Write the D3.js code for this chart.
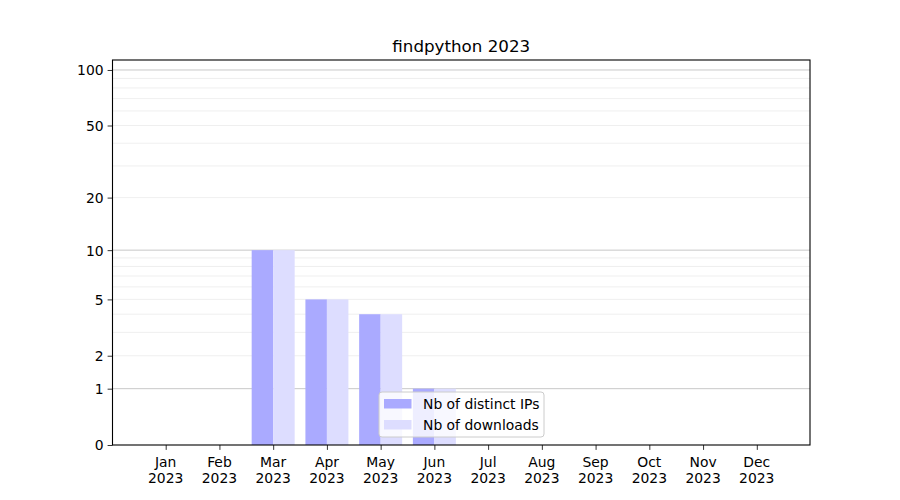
<!DOCTYPE html>
<html><head><meta charset="utf-8">
<script src="https://cdn.jsdelivr.net/npm/d3@7"></script>
<style>body{margin:0;background:#fff}svg{display:block}text{font-family:"DejaVu Sans",sans-serif}</style>
</head><body><svg id="c" width="900" height="500"></svg>
<script>
const months = ["Jan","Feb","Mar","Apr","May","Jun","Jul","Aug","Sep","Oct","Nov","Dec"];
const year = "2023";
const distinctIPs = [0,0,10,5,4,1,0,0,0,0,0,0];
const downloads   = [0,0,10,5,4,1,0,0,0,0,0,0];
const yTickValues = [0,1,2,5,10,20,50,100];
const majorGrid = [1,10,100];
const minorGrid = [2,3,4,5,6,7,8,9,20,30,40,50,60,70,80,90];
const seriesNames = ["Nb of distinct IPs","Nb of downloads"];
const title = "findpython 2023";

const L=112.5,R=810,T=60,B=445;
const svg=d3.select("#c");
const x=d3.scaleLinear().domain([-0.99,11.99]).range([L,R]);
const ylog=d3.scaleLog().domain([1,114.2]).range([B,T]);
const y=v=>ylog(v+1);

// grid
svg.append("g").selectAll("line").data(minorGrid).join("line")
 .attr("x1",L).attr("x2",R).attr("y1",d=>y(d)).attr("y2",d=>y(d))
 .attr("stroke","#ebebeb").attr("stroke-width",0.8);
svg.append("g").selectAll("line").data(majorGrid).join("line")
 .attr("x1",L).attr("x2",R).attr("y1",d=>y(d)).attr("y2",d=>y(d))
 .attr("stroke","#c8c8c8").attr("stroke-width",1);

// bars
svg.append("g").selectAll("rect").data(distinctIPs).join("rect")
 .attr("x",(d,i)=>x(i-0.4)).attr("width",(d,i)=>x(i)-x(i-0.4))
 .attr("y",d=>y(d)).attr("height",d=>B-y(d)).attr("fill","#aaaaff");
svg.append("g").selectAll("rect").data(downloads).join("rect")
 .attr("x",(d,i)=>x(i)).attr("width",(d,i)=>x(i+0.4)-x(i))
 .attr("y",d=>y(d)).attr("height",d=>B-y(d)).attr("fill","#ddddff");

// axes
const ya=d3.axisLeft(ylog).tickValues(yTickValues.map(v=>v+1)).tickFormat(d=>String(Math.round(d-1))).tickSize(4.9).tickPadding(4);
const gy=svg.append("g").attr("transform",`translate(${L},0)`).call(ya);
gy.select(".domain").remove();
gy.selectAll("line").attr("stroke","#000").attr("stroke-width",0.8);
gy.selectAll("text").attr("font-size","13.9px").attr("fill","#000").attr("dy","0.35em");

const xa=d3.axisBottom(x).tickValues(d3.range(12)).tickFormat("").tickSize(4.9);
const gx=svg.append("g").attr("transform",`translate(0,${B})`).call(xa);
gx.select(".domain").remove();
gx.selectAll("line").attr("stroke","#000").attr("stroke-width",0.8);
const lbl=svg.append("g").selectAll("text").data(months).join("text")
 .attr("text-anchor","middle").attr("font-size","13.9px").attr("fill","#000");
lbl.append("tspan").attr("x",(d,i)=>x(i)).attr("y",467).text(d=>d);
lbl.append("tspan").attr("x",(d,i)=>x(i)).attr("y",483).text(year);

// frame
svg.append("rect").attr("x",L).attr("y",T).attr("width",R-L).attr("height",B-T)
 .attr("fill","none").attr("stroke","#000").attr("stroke-width",1.1);

// title
svg.append("text").attr("x",(L+R)/2).attr("y",52).attr("text-anchor","middle")
 .attr("font-size","16.7px").attr("fill","#000").text(title);

// legend
const lg=svg.append("g").attr("transform","translate(379,392)");
lg.append("rect").attr("width",165).attr("height",45).attr("rx",3)
 .attr("fill","#fff").attr("fill-opacity",0.8).attr("stroke","#cccccc").attr("stroke-width",1);
const cols=["#aaaaff","#ddddff"];
seriesNames.forEach((n,i)=>{
  lg.append("rect").attr("x",5).attr("y",7+i*21).attr("width",27.5).attr("height",9.5).attr("fill",cols[i]);
  lg.append("text").attr("x",44).attr("y",17+i*21).attr("font-size","13.9px").attr("fill","#000").text(n);
});
</script></body></html>
